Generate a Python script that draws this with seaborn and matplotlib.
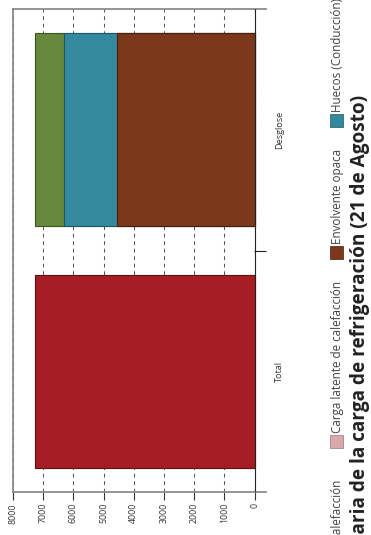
import pandas as pd
import numpy as np
import seaborn as sns
import matplotlib.pyplot as plt
from matplotlib.patches import Rectangle

# data
categories = ["Desglose", "Total"]
components = ["Carga sensible de calefacción", "Carga latente de calefacción",
              "Envolvente opaca", "Huecos (Conducción)", "Huecos (Solar)"]
total_values = [7285, 0, 0, 0, 0]
desglose_values = [0, 0, 4570, 1740, 975]
colors = ["#A71D23", "#D9A8AA", "#7B381A", "#34899E", "#66893D"]
edges = ["#5E0D12", "#A07476", "#4A1E0A", "#1D5666", "#3B5420"]
value_ticks = [0, 1000, 2000, 3000, 4000, 5000, 6000, 7000, 8000]
title = "Distribución diaria de la carga de refrigeración (21 de Agosto)"

sns.set_style("white")
plt.rcParams["font.family"] = ["Open Sans", "DejaVu Sans"]

W, H = 371, 535
fig = plt.figure(figsize=(W / 100, H / 100), dpi=100)
ax = fig.add_axes([13 / W, 1 - 492 / H, (266 - 13) / W, (492 - 9) / H])

# long table with stacked (cumulative) lengths
rows = []
for cat, vals in (("Total", total_values), ("Desglose", desglose_values)):
    cum = np.cumsum(vals)
    for comp, v, c in zip(components, vals, cum):
        rows.append({"cat": cat, "comp": comp, "value": v, "cum": c})
df = pd.DataFrame(rows)

# draw from the outermost segment inwards so shorter ones sit on top
for comp, col, ec in reversed(list(zip(components, colors, edges))):
    sub = df[(df["comp"] == comp) & (df["value"] > 0)]
    if len(sub) == 0:
        continue
    sns.barplot(data=sub, x="cum", y="cat", order=categories, orient="h",
                color=col, edgecolor=ec, linewidth=0.8, width=0.8,
                saturation=1, errorbar=None, ax=ax)

ax.set_xlabel("")
ax.set_ylabel("")
ax.set_xlim(8000, -380)
ax.set_ylim(1.5, -0.5)

# value axis (bottom)
ax.set_xticks(value_ticks)
ax.set_xticklabels([str(v) for v in value_ticks], rotation=90, fontsize=6.3,
                   color="#333333", va="top")
ax.tick_params(axis="x", direction="out", length=6, width=0.8, color="#333333",
               pad=2, bottom=True, top=False)
ax.set_axisbelow(True)
ax.grid(axis="x", color="#555555", linewidth=0.75, linestyle=(0, (3.6, 3.6)))
ax.grid(axis="y", visible=False)
ax.axvline(0, color="#222222", linewidth=0.8, zorder=3)

# category axis (right side)
ax.yaxis.tick_right()
ax.set_yticks([0, 1])
ax.set_yticklabels(categories, rotation=90, fontsize=6.6, color="#333333",
                   va="center", ha="left")
ax.set_yticks([0.5], minor=True)
ax.tick_params(axis="y", which="major", length=0, pad=6.5, left=False, right=True)
ax.tick_params(axis="y", which="minor", direction="in", length=8.6, width=0.8,
               color="#222222", left=False, right=True)

for side in ["top", "left", "bottom"]:
    ax.spines[side].set_color("#8C8C8C")
    ax.spines[side].set_linewidth(1.3)
ax.spines["right"].set_visible(False)

# legend, laid out along the right side, reading upwards
renderer = fig.canvas.get_renderer()
texts = []
for comp in components:
    t = fig.text(0, 0, comp, rotation=90, fontsize=8.4, color="#404040",
                 ha="center", va="bottom")
    texts.append(t)
lens = [t.get_window_extent(renderer).height for t in texts]
box, gap_in, gap_out = 13, 2, 22
entry = [box + gap_in + l for l in lens]
starts = [0] * len(components)
starts[1] = 448
starts[0] = starts[1] + 32 + entry[0]
for i in range(2, len(components)):
    starts[i] = starts[i - 1] - entry[i - 1] - gap_out
for t, s, col, ec in zip(texts, starts, colors, edges):
    fig.patches.append(Rectangle((330 / W, 1 - s / H), box / W, box / H,
                                 transform=fig.transFigure, facecolor=col,
                                 edgecolor=ec, linewidth=0.5))
    t.set_position((337.5 / W, 1 - (s - box - gap_in) / H))

fig.text(360 / W, 1 - 95 / H, title, rotation=90, fontsize=13.7,
         fontweight="bold", color="#222222", ha="center", va="top")

fig.savefig("out.png", dpi=100)
